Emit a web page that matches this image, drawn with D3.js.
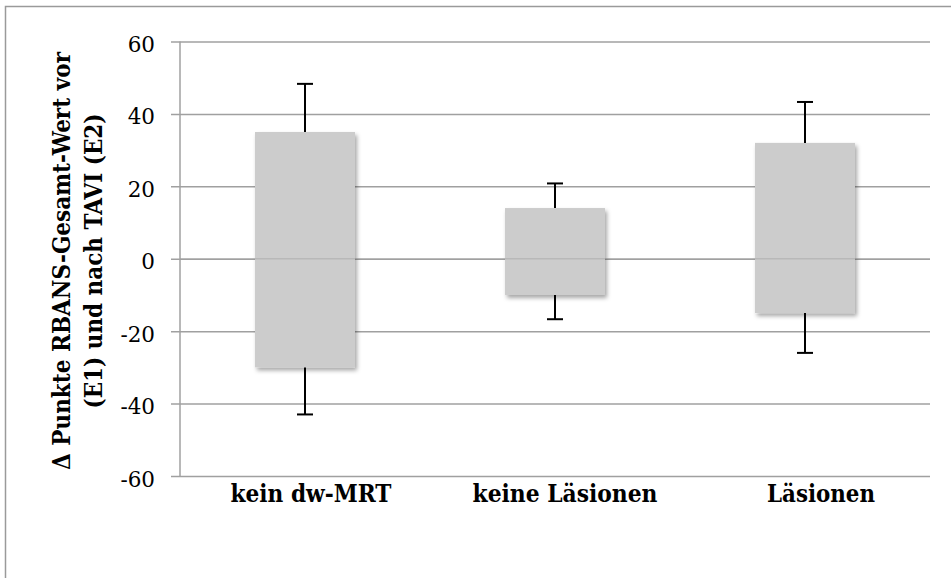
<!DOCTYPE html>
<html>
<head>
<meta charset="utf-8">
<script src="https://cdn.jsdelivr.net/npm/d3@7"></script>
<style>
  html, body { margin: 0; padding: 0; background: #fff; }
  svg { display: block; }
</style>
</head>
<body>
<svg id="chart" width="951" height="578"></svg>
<script>
// Groups and their ranges (Δ RBANS total score, E2 − E1)
const categories = ["kein dw-MRT", "keine Läsionen", "Läsionen"];
const boxLow     = [-30, -10, -15];
const boxHigh    = [35, 14, 32];
const whiskerLow  = [-43, -16.7, -26];
const whiskerHigh = [48.3, 20.8, 43.3];
const yTicks = [-60, -40, -20, 0, 20, 40, 60];
const yTitleLines = ["Δ Punkte RBANS-Gesamt-Wert vor", "(E1) und nach TAVI (E2)"];

const rows = categories.map((c, i) => ({
  cat: c, lo: boxLow[i], hi: boxHigh[i], wLo: whiskerLow[i], wHi: whiskerHigh[i]
}));

const svg = d3.select("#chart");
const plot = { left: 180, right: 930, top: 41.5, bottom: 476 };
const gridColor = "#a0a0a0";
const serif = "'DejaVu Serif', 'Liberation Serif', serif";

// outer chart frame
svg.append("rect")
  .attr("x", 5.5).attr("y", 6.5).attr("width", 1000).attr("height", 1000)
  .attr("fill", "none").attr("stroke", "#9a9a9a").attr("stroke-width", 1.5);

const x = d3.scaleBand().domain(categories)
  .range([plot.left, plot.right]).paddingInner(0.6).paddingOuter(0.3);
const y = d3.scaleLinear().domain([-60, 60]).range([plot.bottom, plot.top]);

// drop shadow for the boxes
const defs = svg.append("defs");
const f = defs.append("filter").attr("id", "shadow")
  .attr("x", "-20%").attr("y", "-20%").attr("width", "140%").attr("height", "140%");
f.append("feDropShadow").attr("dx", 2).attr("dy", 3).attr("stdDeviation", 2)
  .attr("flood-color", "#000").attr("flood-opacity", 0.35);

// value axis with gridlines
const yAxis = d3.axisLeft(y).tickValues(yTicks).tickSize(-(plot.right - plot.left)).tickPadding(0).tickFormat("");
const gy = svg.append("g").attr("transform", `translate(${plot.left},0)`).call(yAxis);
gy.select(".domain").remove();
gy.selectAll(".tick line").attr("x1", -9).attr("stroke", gridColor).attr("stroke-width", 1.5);
gy.selectAll(".tick").append("text")
  .attr("x", -25).attr("y", 10)
  .attr("text-anchor", "end")
  .attr("fill", "#000")
  .style("font-family", serif).style("font-size", "21.5px")
  .text(d => d);
svg.append("line")
  .attr("x1", plot.left).attr("x2", plot.left)
  .attr("y1", plot.top).attr("y2", plot.bottom)
  .attr("stroke", gridColor).attr("stroke-width", 1.5);

// boxes
svg.append("g").selectAll("rect").data(rows).join("rect")
  .attr("x", d => x(d.cat)).attr("width", x.bandwidth())
  .attr("y", d => y(d.hi)).attr("height", d => y(d.lo) - y(d.hi))
  .attr("fill", "#cccccc").attr("filter", "url(#shadow)");

// zero line showing through the boxes
svg.append("line")
  .attr("x1", plot.left).attr("x2", plot.right)
  .attr("y1", y(0)).attr("y2", y(0))
  .attr("stroke", gridColor).attr("stroke-opacity", 0.45).attr("stroke-width", 1.5);

// whiskers
const wg = svg.append("g").attr("stroke", "#000").attr("stroke-width", 2);
rows.forEach(d => {
  const cx = x(d.cat) + x.bandwidth() / 2;
  wg.append("line").attr("x1", cx).attr("x2", cx).attr("y1", y(d.hi)).attr("y2", y(d.wHi));
  wg.append("line").attr("x1", cx - 8).attr("x2", cx + 8).attr("y1", y(d.wHi)).attr("y2", y(d.wHi));
  wg.append("line").attr("x1", cx).attr("x2", cx).attr("y1", y(d.lo)).attr("y2", y(d.wLo));
  wg.append("line").attr("x1", cx - 8).attr("x2", cx + 8).attr("y1", y(d.wLo)).attr("y2", y(d.wLo));
});

// category labels
const labelShift = [6, 10, 16];
const labelWidth = [161, 185, 108];
svg.append("g").selectAll("text").data(categories).join("text")
  .attr("x", (d, i) => x(d) + x.bandwidth() / 2 + labelShift[i])
  .attr("y", 502)
  .attr("text-anchor", "middle")
  .attr("textLength", (d, i) => labelWidth[i])
  .attr("lengthAdjust", "spacingAndGlyphs")
  .style("font-family", serif).style("font-size", "24px").style("font-weight", "bold")
  .text(d => d);

// value axis title
const titleLen = [418, 295];
const titleBase = [70, 102];
const midY = 261;
yTitleLines.forEach((t, i) => {
  svg.append("text")
    .attr("transform", `translate(${titleBase[i]},${midY}) rotate(-90)`)
    .attr("text-anchor", "middle")
    .attr("textLength", titleLen[i])
    .attr("lengthAdjust", "spacingAndGlyphs")
    .style("font-family", serif).style("font-size", "24px").style("font-weight", "bold")
    .text(t);
});
</script>
</body>
</html>
